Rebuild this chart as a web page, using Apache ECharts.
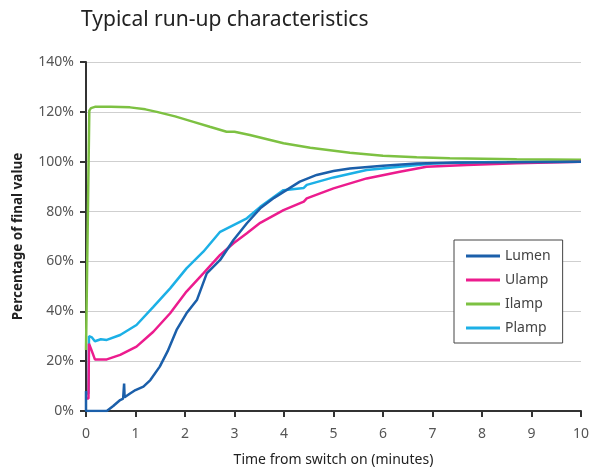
<!DOCTYPE html>
<html><head><meta charset="utf-8">
<script src="https://cdn.jsdelivr.net/npm/echarts@6/dist/echarts.min.js"></script>
<style>html,body{margin:0;padding:0;background:#fff}#c{width:596px;height:468px}</style>
</head><body><div id="c"></div>
<script>
const title = 'Typical run-up characteristics';
const xName = 'Time from switch on (minutes)';
const yName = 'Percentage of final value';
const seriesNames = ['Lumen', 'Ulamp', 'Ilamp', 'Plamp'];
const colors = ['#1b5faa', '#ec1c8e', '#7dc142', '#1cb0e6'];

const lumenT = [0, 0, 0.02, 0.42, 0.55, 0.69, 0.75, 0.77, 0.78, 0.8, 0.89, 1.0, 1.16, 1.3, 1.49, 1.65, 1.83, 2.03, 2.24, 2.44, 2.71, 2.98, 3.25, 3.52, 3.8, 4.0, 4.32, 4.66, 5.0, 5.33, 6.0, 6.68, 7.5, 8.5, 10];
const lumenV = [8, 0, 0, 0, 2, 4.4, 5, 11, 5.5, 6, 7, 8.4, 9.8, 12.4, 17.8, 24, 32.5, 39.2, 44.5, 55.2, 60.6, 68.6, 75.3, 81.3, 85.5, 88, 92, 94.7, 96.3, 97.3, 98.4, 99.3, 99.7, 99.8, 100];

const ulampT = [0, 0.05, 0.06, 0.1, 0.18, 0.42, 0.69, 1.02, 1.36, 1.7, 2.03, 2.37, 2.71, 2.98, 3.25, 3.52, 3.99, 4.4, 4.46, 4.5, 5.0, 5.67, 6.34, 6.88, 7.69, 8.7, 10];
const ulampV = [5, 5, 27, 25, 20.7, 20.7, 22.5, 25.8, 31.8, 39.2, 47.9, 55.2, 62.6, 67.3, 71.3, 75.5, 80.6, 84, 85.3, 85.6, 89.3, 93.3, 96, 98, 98.7, 99.4, 100];

const ilampT = [0, 0.04, 0.067, 0.1, 0.18, 0.5, 0.89, 1.2, 1.43, 1.8, 2.17, 2.5, 2.84, 3.0, 3.31, 3.99, 4.53, 5.33, 6.0, 6.68, 7.35, 8.7, 10];
const ilampV = [24.5, 24.5, 120.5, 121.5, 122, 122, 121.8, 121, 120, 118.2, 116, 114, 112, 112, 110.7, 107.4, 105.6, 103.6, 102.4, 101.8, 101.4, 101, 100.8];

const plampT = [0, 0.05, 0.06, 0.12, 0.18, 0.3, 0.42, 0.69, 1.02, 1.36, 1.7, 2.03, 2.37, 2.71, 2.98, 3.25, 3.52, 3.99, 4.4, 4.46, 5.0, 5.67, 6.34, 7.01, 8, 10];
const plampV = [7, 7, 30, 29.5, 28, 28.8, 28.5, 30.5, 34.5, 41.8, 49.2, 57.2, 63.9, 71.9, 74.6, 77.3, 81.9, 88.6, 89.5, 90.7, 93.7, 96.7, 98, 99.3, 99.8, 100];

const pairs = (t, v) => t.map((x, i) => [x, v[i]]);
const allData = [pairs(lumenT, lumenV), pairs(ulampT, ulampV), pairs(ilampT, ilampV), pairs(plampT, plampV)];
const font = 'Noto Sans';

const chart = echarts.init(document.getElementById('c'));
chart.setOption({
  animation: false,
  color: colors,
  title: { text: title, left: 76, top: 5, textStyle: { fontFamily: font, fontSize: 21, fontWeight: 'normal', color: '#222' } },
  grid: { left: 86, right: 15, top: 62, bottom: 57, containLabel: false, outerBoundsMode: 'none' },
  legend: {
    orient: 'vertical', left: 454, top: 240,
    data: seriesNames, icon: 'rect', itemWidth: 34, itemHeight: 3, itemGap: 10,
    borderColor: '#444', borderWidth: 1, backgroundColor: '#fff',
    padding: [9, 12, 8, 12],
    textStyle: { fontFamily: font, fontSize: 14, color: '#444' }
  },
  xAxis: {
    type: 'value', min: 0, max: 10, interval: 1,
    name: xName, nameLocation: 'middle', nameGap: 42,
    nameTextStyle: { fontFamily: font, fontSize: 14, color: '#222' },
    axisLine: { lineStyle: { color: '#333', width: 2 } },
    axisTick: { show: true, length: 6, lineStyle: { color: '#333', width: 2 } },
    axisLabel: { fontFamily: font, fontSize: 14, color: '#555', margin: 16 },
    splitLine: { show: false }
  },
  yAxis: {
    type: 'value', min: 0, max: 140, interval: 20,
    name: yName, nameLocation: 'middle', nameGap: 61,
    nameTextStyle: { fontFamily: font, fontSize: 13.5, color: '#222', fontWeight: 'bold' },
    axisLine: { show: true, lineStyle: { color: '#333', width: 2 } },
    axisTick: { show: true, length: 6, lineStyle: { color: '#333', width: 2 } },
    axisLabel: { fontFamily: font, fontSize: 14, color: '#555', formatter: '{value}%', margin: 12 },
    splitLine: { show: true, lineStyle: { color: '#cfcfcf', width: 1 } }
  },
  series: seriesNames.map((n, i) => ({
    name: n, type: 'line', data: allData[i], showSymbol: false, symbol: 'none',
    lineStyle: { width: 2.5, color: colors[i] }, z: [4, 3, 2, 1][i]
  }))
});
</script></body></html>
